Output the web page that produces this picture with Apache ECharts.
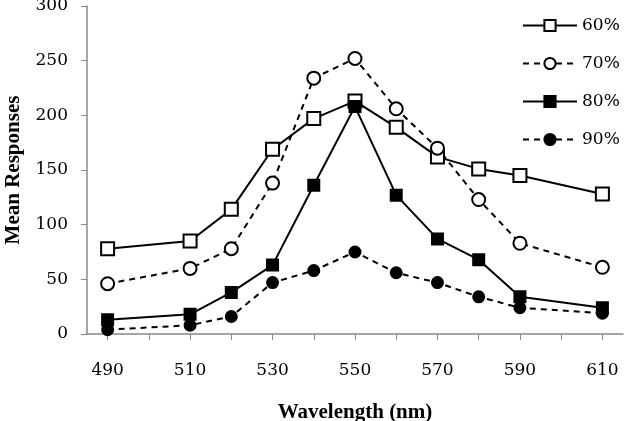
<!DOCTYPE html>
<html>
<head>
<meta charset="utf-8">
<script src="https://cdn.jsdelivr.net/npm/echarts@6/dist/echarts.min.js"></script>
<style>html,body{margin:0;padding:0;background:#fff}#c{width:624px;height:421px}</style>
</head>
<body>
<div id="c"></div>
<script>
var wavelengths = [490, 510, 520, 530, 540, 550, 560, 570, 580, 590, 610];
var s60 = [78, 85, 114, 169, 197, 213, 189, 162, 151, 145, 128];
var s70 = [46, 60, 78, 138, 234, 252, 206, 170, 123, 83, 61];
var s80 = [13, 18, 38, 63, 136, 208, 127, 87, 68, 34, 24];
var s90 = [4, 8, 16, 47, 58, 75, 56, 47, 34, 24, 19];
var xTicks = [490, 500, 510, 520, 530, 540, 550, 560, 570, 580, 590, 600, 610];
var xLabels = [490, 510, 530, 550, 570, 590, 610];
var seriesNames = ['60%', '70%', '80%', '90%'];

function pairs(vals) { return wavelengths.map(function (w, i) { return [w, vals[i]]; }); }

var serif = 'DejaVu Serif';
var titleFont = 'Liberation Serif';

function mk(name, vals, symbol, size, fill, dash) {
  return {
    name: name, type: 'line', data: pairs(vals),
    symbol: symbol, symbolSize: size,
    lineStyle: { color: '#000', width: 2, type: dash ? [6, 5] : 'solid' },
    itemStyle: { color: fill, borderColor: '#000', borderWidth: 2 },
    emphasis: { disabled: true }, animation: false
  };
}

var chart = echarts.init(document.getElementById('c'));
chart.setOption({
  animation: false,
  grid: { left: 87, right: 1, top: 6, bottom: 87, containLabel: false, outerBoundsMode: 'none' },
  legend: {
    orient: 'vertical', left: 522, top: 17, padding: 0,
    itemWidth: 54, itemHeight: 14, itemGap: 21,
    textStyle: { fontFamily: serif, fontSize: 17, color: '#000', lineHeight: 14 },
    data: seriesNames
  },
  xAxis: {
    type: 'value', min: 485, max: 615,
    name: 'Wavelength (nm)', nameLocation: 'middle', nameGap: 68,
    nameTextStyle: { fontFamily: titleFont, fontWeight: 'bold', fontSize: 21, color: '#000' },
    axisLine: { lineStyle: { color: '#888', width: 1.5 } },
    axisTick: { show: true, length: 6, inside: false, lineStyle: { color: '#888' }, customValues: xTicks },
    axisLabel: { fontFamily: serif, fontSize: 17, color: '#000', margin: 28, customValues: xLabels },
    splitLine: { show: false }
  },
  yAxis: {
    type: 'value', min: 0, max: 300, interval: 50,
    name: 'Mean Responses', nameLocation: 'middle', nameGap: 63,
    nameTextStyle: { fontFamily: titleFont, fontWeight: 'bold', fontSize: 21, color: '#000' },
    axisLine: { show: true, lineStyle: { color: '#888', width: 1.5 } },
    axisTick: { show: true, length: 6, lineStyle: { color: '#888' } },
    axisLabel: { fontFamily: serif, fontSize: 17, color: '#000', margin: 19 },
    splitLine: { show: false }
  },
  series: [
    mk('60%', s60, 'rect', 13, '#fff', false),
    mk('70%', s70, 'circle', 13, '#fff', true),
    mk('80%', s80, 'rect', 11, '#000', false),
    mk('90%', s90, 'circle', 11, '#000', true)
  ]
});
</script>
</body>
</html>
